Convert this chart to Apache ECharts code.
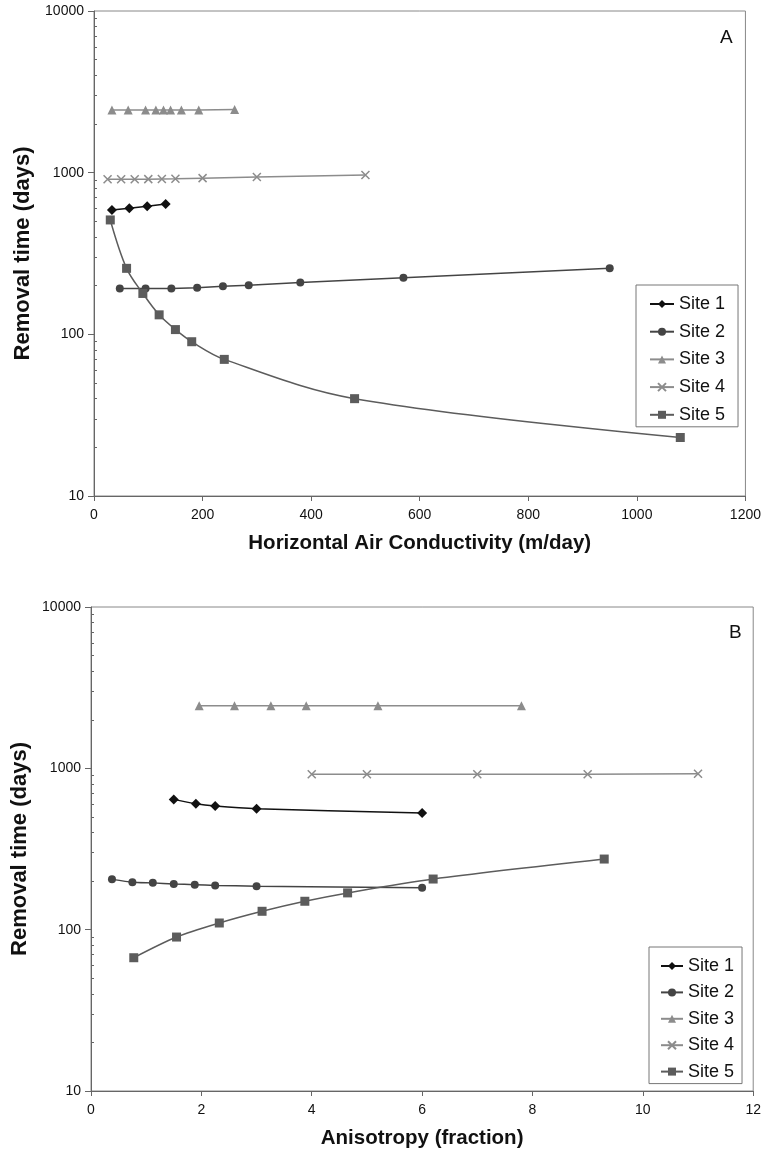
<!DOCTYPE html>
<html>
<head>
<meta charset="utf-8">
<script src="https://cdn.jsdelivr.net/npm/echarts@6/dist/echarts.min.js"></script>
<style>
  html, body { margin: 0; padding: 0; background: #fff; }
  #main { width: 764px; height: 1153px; }
</style>
</head>
<body>
<div id="main"></div>
<script>
const siteNames = ['Site 1', 'Site 2', 'Site 3', 'Site 4', 'Site 5'];

// panel A - horizontal air conductivity (m/day) vs removal time (days)
const condSite1X = [33, 65, 98, 132];
const condSite1Y = [588, 602, 620, 640];
const condSite2X = [47.5, 95, 142.5, 190, 237.5, 285, 380, 570, 950];
const condSite2Y = [192, 192, 192, 194, 198, 201, 209, 224, 256];
const condSite3X = [33, 63, 95, 114, 128, 141, 161, 193, 259];
const condSite3Y = [2440, 2440, 2440, 2440, 2440, 2440, 2440, 2440, 2460];
const condSite4X = [25, 50, 75, 100, 125, 150, 200, 300, 500];
const condSite4Y = [910, 910, 910, 912, 914, 916, 925, 940, 968];
const condSite5X = [30, 60, 90, 120, 150, 180, 240, 480, 1080];
const condSite5Y = [510, 256, 179, 132, 107, 90, 70, 40, 23];

// panel B - anisotropy (fraction) vs removal time (days)
const anisoSite1X = [1.5, 1.9, 2.25, 3, 6];
const anisoSite1Y = [642, 603, 584, 562, 528];
const anisoSite2X = [0.38, 0.75, 1.12, 1.5, 1.88, 2.25, 3, 6];
const anisoSite2Y = [205, 197, 195, 192, 190, 188, 186, 182];
const anisoSite3X = [1.96, 2.6, 3.26, 3.9, 5.2, 7.8];
const anisoSite3Y = [2440, 2440, 2440, 2440, 2440, 2440];
const anisoSite4X = [4, 5, 7, 9, 11];
const anisoSite4Y = [918, 918, 918, 920, 925];
const anisoSite5X = [0.775, 1.55, 2.325, 3.1, 3.875, 4.65, 6.2, 9.3];
const anisoSite5Y = [67, 90, 110, 130, 150, 169, 206, 274];

// log axis minor ticks (2..9 in each decade)
const minorTicks = [];
[10, 100, 1000].forEach(function (d) {
  for (let k = 2; k <= 9; k++) minorTicks.push(k * d);
});

const font = 'Arial, "Liberation Sans", sans-serif';
const axisGray = '#666';
const styles = [
  { symbol: 'diamond', size: 10, color: '#111111', smoothA: false, smoothB: 0.3 },
  { symbol: 'circle', size: 8, color: '#444444', smoothA: false, smoothB: 0.2 },
  { symbol: 'triangle', size: 9, color: '#8c8c8c', smoothA: false, smoothB: false },
  { symbol: 'path://M0,0L10,10M10,0L0,10', size: 8, color: '#8c8c8c', smoothA: false, smoothB: false, cross: true },
  { symbol: 'rect', size: 9, color: '#5c5c5c', smoothA: 0.35, smoothB: 0.3 }
];

function pairs(xs, ys) {
  return xs.map(function (x, i) { return [x, ys[i]]; });
}

function plain(v) { return String(v); }

function makeSeries(panel, xs, ys) {
  return siteNames.map(function (name, i) {
    const st = styles[i];
    return {
      name: name,
      type: 'line',
      xAxisIndex: panel,
      yAxisIndex: panel * 2,
      data: pairs(xs[i], ys[i]),
      smooth: panel === 0 ? st.smoothA : st.smoothB,
      symbol: st.symbol,
      symbolSize: st.size,
      showAllSymbol: true,
      lineStyle: { color: st.color, width: 1.5 },
      itemStyle: st.cross
        ? { color: 'rgba(0,0,0,0)', borderColor: st.color, borderWidth: 1.5 }
        : { color: st.color, borderWidth: 0 },
      emphasis: { disabled: true },
      animation: false
    };
  });
}

function xAxisOf(grid, max, interval, name) {
  return {
    gridIndex: grid,
    type: 'value',
    min: 0,
    max: max,
    interval: interval,
    name: name,
    nameLocation: 'middle',
    nameGap: 37,
    nameTextStyle: { fontFamily: font, fontWeight: 'bold', fontSize: 20.5, color: '#111' },
    axisLine: { show: true, onZero: false, lineStyle: { color: axisGray, width: 1 } },
    axisTick: { show: true, inside: false, length: 5, lineStyle: { color: axisGray } },
    axisLabel: { fontFamily: font, fontSize: 14, color: '#111', margin: 12, formatter: plain },
    splitLine: { show: false }
  };
}

function yAxesOf(grid, nameGap) {
  return [{
    gridIndex: grid,
    type: 'log',
    logBase: 10,
    min: 10,
    max: 10000,
    name: 'Removal time (days)',
    nameLocation: 'middle',
    nameGap: nameGap,
    nameTextStyle: { fontFamily: font, fontWeight: 'bold', fontSize: 22, color: '#111' },
    axisLine: { show: true, lineStyle: { color: axisGray, width: 1 } },
    axisTick: { show: true, inside: false, length: 6, lineStyle: { color: axisGray } },
    axisLabel: { fontFamily: font, fontSize: 14, color: '#111', margin: 10, formatter: plain },
    splitLine: { show: false }
  }, {
    gridIndex: grid,
    type: 'log',
    logBase: 10,
    min: 10,
    max: 10000,
    position: 'left',
    axisLine: { show: false },
    axisTick: { show: true, inside: true, length: 3, customValues: minorTicks, lineStyle: { color: axisGray } },
    axisLabel: { show: false },
    splitLine: { show: false }
  }];
}

function legendOf(left, top, width, gap, padding) {
  return {
    orient: 'vertical',
    left: left,
    top: top,
    data: siteNames,
    itemWidth: width,
    itemHeight: 10,
    itemGap: gap,
    padding: padding,
    borderColor: '#777',
    borderWidth: 1,
    backgroundColor: '#fff',
    selectedMode: false,
    textStyle: { fontFamily: font, fontSize: 18, color: '#111' }
  };
}

const chart = echarts.init(document.getElementById('main'), null, { renderer: 'canvas' });

const option = {
  backgroundColor: '#fff',
  animation: false,
  grid: [
    { left: 94, top: 11, width: 652, height: 485, show: true, borderColor: '#888', borderWidth: 1 },
    { left: 91, top: 607, width: 664, height: 484, show: true, borderColor: '#888', borderWidth: 1 }
  ],
  xAxis: [
    xAxisOf(0, 1200, 200, 'Horizontal Air Conductivity (m/day)'),
    xAxisOf(1, 12, 2, 'Anisotropy (fraction)')
  ],
  yAxis: yAxesOf(0, 51).concat(yAxesOf(1, 53)),
  legend: [
    legendOf(636, 285, 24, 9.7, [10, 13, 3, 13]),
    legendOf(649, 947, 22, 8.4, [10, 8, 3, 11])
  ],
  graphic: [
    { type: 'text', left: 720, top: 28, style: { text: 'A', font: '19px ' + font, fill: '#111' } },
    { type: 'text', left: 729, top: 623, style: { text: 'B', font: '19px ' + font, fill: '#111' } }
  ],
  series: makeSeries(0,
      [condSite1X, condSite2X, condSite3X, condSite4X, condSite5X],
      [condSite1Y, condSite2Y, condSite3Y, condSite4Y, condSite5Y])
    .concat(makeSeries(1,
      [anisoSite1X, anisoSite2X, anisoSite3X, anisoSite4X, anisoSite5X],
      [anisoSite1Y, anisoSite2Y, anisoSite3Y, anisoSite4Y, anisoSite5Y]))
};

chart.setOption(option);
</script>
</body>
</html>
